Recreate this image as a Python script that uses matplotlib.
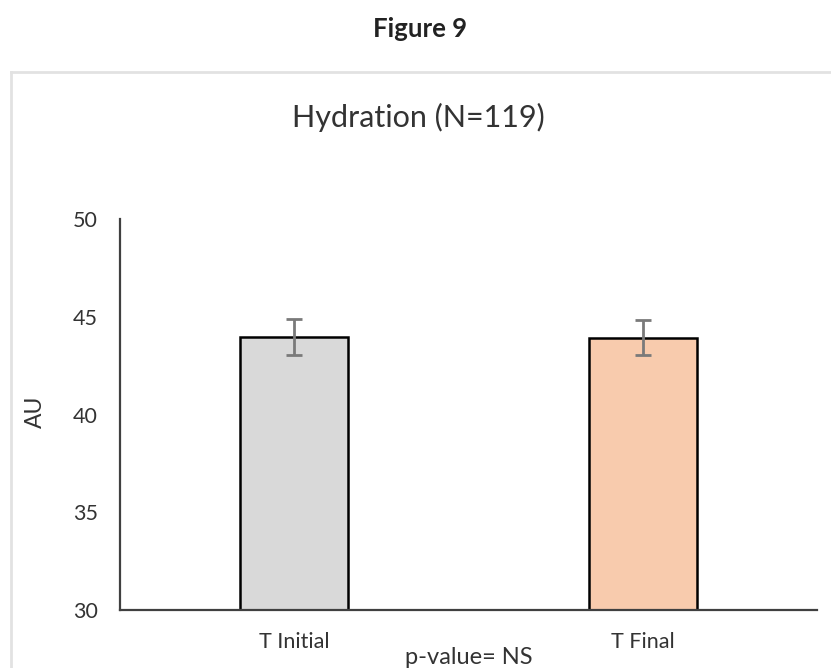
import numpy as np
import matplotlib
matplotlib.use("Agg")
import matplotlib.pyplot as plt
from matplotlib.lines import Line2D

plt.rcParams['font.family'] = ['Lato', 'DejaVu Sans']

# hydration, arbitrary units
groups = ["T Initial", "T Final"]
means = [43.95, 43.93]
errors = [0.92, 0.88]
colors = ["#d9d9d9", "#f8cbad"]
yticks = [30, 35, 40, 45, 50]

fig = plt.figure(figsize=(8.31, 6.68), dpi=100)
ax = fig.add_axes([0.1444, 0.0868, 0.8388, 0.5853])

x = np.arange(len(groups))
ax.bar(x, means, width=0.31, color=colors, edgecolor="black", linewidth=1.8, zorder=2)
ax.errorbar(x, means, yerr=errors, fmt="none", ecolor="#7a7a7a",
            elinewidth=2, capsize=6, capthick=2, zorder=3)

ax.set_xlim(-0.5, 1.5)
ax.set_ylim(30, 50)
ax.set_yticks(yticks)
ax.set_xticks(x)
ax.set_xticklabels(groups)
ax.tick_params(axis="both", length=0, labelsize=15.5, labelcolor="#333333")
ax.tick_params(axis="y", pad=16)
ax.tick_params(axis="x", pad=16)
for s in ["top", "right"]:
    ax.spines[s].set_visible(False)
for s in ["left", "bottom"]:
    ax.spines[s].set_color("#404040")
    ax.spines[s].set_linewidth(1.6)

fig.text(0.505, 1 - 37 / 668, "Figure 9", ha="center", va="baseline",
         fontsize=18.5, fontweight="bold", color="#222222")
fig.text(0.503, 1 - 127 / 668, "Hydration (N=119)", ha="center", va="baseline",
         fontsize=22, color="#333333")
fig.text(35 / 831, 1 - 412 / 668, "AU", ha="center", va="center",
         rotation=90, fontsize=16.5, color="#333333")
fig.text(0.5637, 1 - 658 / 668, "p-value= NS", ha="center", va="center",
         fontsize=17, color="#333333")

# light frame around the chart
fig.add_artist(Line2D([11 / 831, 11 / 831], [0, 1 - 72 / 668],
                      color="#e2e2e2", linewidth=2, transform=fig.transFigure))
fig.add_artist(Line2D([11 / 831, 1], [1 - 72 / 668, 1 - 72 / 668],
                      color="#e2e2e2", linewidth=2, transform=fig.transFigure))

fig.savefig("out.png", dpi=100)
